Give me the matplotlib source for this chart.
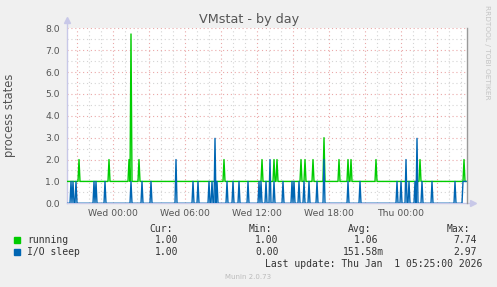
import matplotlib.pyplot as plt
from matplotlib.ticker import MultipleLocator, FixedLocator

# time in minutes relative to Wed 00:00, 5 minute samples
t_start, t_end = -230, 1765

# running: baseline 1, spikes at these times
run_spike_t = [-170, -20, 80, 90, 130, 555, 745, 805, 820, 940, 960, 1000,
               1055, 1130, 1175, 1190, 1315, 1535, 1755]
run_spike_v = [2, 2, 2, 7.74, 2, 2, 2, 2, 2, 2, 2, 2,
               3, 2, 2, 2, 2, 2, 2]

# I/O sleep: baseline 0 (1 at the very end), spikes at these times
io_spike_t = [-210, -200, -185, -95, -85, -40, 90, 145, 190, 315, 400, 425,
              480, 495, 510, 520, 570, 600, 630, 675, 730, 740, 765, 785,
              805, 850, 895, 905, 930, 955, 980, 1020, 1055, 1175, 1235,
              1420, 1440, 1465, 1480, 1510, 1520, 1545, 1595, 1710]
io_spike_v = [1, 1, 1, 1, 1, 1, 1, 1, 1, 2, 1, 1,
              1, 1, 2.97, 1, 1, 1, 1, 1, 1, 1, 1, 2,
              1, 1, 1, 1, 1, 1, 1, 1, 2, 1, 1,
              1, 1, 2, 1, 1, 2.97, 1, 1, 1]
io_tail_t = [1745, 1750, t_end]
io_tail_v = [0, 1, 1]

xtick_pos = [0, 360, 720, 1080, 1440]
xtick_labels = ['Wed 00:00', 'Wed 06:00', 'Wed 12:00', 'Wed 18:00', 'Thu 00:00']

legend_names = ['running', 'I/O sleep']
legend_colors = ['#00cc00', '#0066b3']
cur_vals = ['1.00', '1.00']
min_vals = ['1.00', '0.00']
avg_vals = ['1.06 ', '151.58m']
max_vals = ['7.74', '2.97']


def spikes(base, st, sv):
    xs, ys = [], []
    for t, v in zip(st, sv):
        xs += [t - 5, t, t + 5]
        ys += [base, v, base]
    return xs, ys


W, H = 497, 287
fig = plt.figure(figsize=(W / 100, H / 100), dpi=100, facecolor='#f0f0f0')
ax = fig.add_axes([67 / W, 1 - 203.3 / H, 400 / W, 175 / H])
ax.set_facecolor('white')

rx, ry = spikes(1, run_spike_t, run_spike_v)
rx = [t_start] + rx + [t_end]
ry = [1] + ry + [1]
ax.plot(rx, ry, color=legend_colors[0], lw=1.0, zorder=3)

ix, iy = spikes(0, io_spike_t, io_spike_v)
ix = [t_start] + ix + io_tail_t
iy = [0] + iy + io_tail_v
ax.plot(ix, iy, color=legend_colors[1], lw=1.0, zorder=4)

ax.set_xlim(-230, 1770)
ax.set_ylim(0, 8)

# grid
ax.xaxis.set_major_locator(FixedLocator(xtick_pos))
ax.set_xticklabels(xtick_labels)
ax.yaxis.set_major_locator(MultipleLocator(1))
ax.yaxis.set_major_formatter(plt.FormatStrFormatter('%.1f'))
for t in range(-180, 1770, 60):
    c = '#eaa8a8' if t % 180 == 0 else '#d4d4d4'
    ax.axvline(t, color=c, lw=0.8, ls=(0, (1, 2.5)), zorder=1)
for v in [i * 0.5 for i in range(1, 17)]:
    c = '#eaa8a8' if v % 1 == 0 else '#d4d4d4'
    ax.axhline(v, color=c, lw=0.8, ls=(0, (1, 2.5)), zorder=1)

ax.tick_params(length=0, labelsize=6.7, colors='#555555', pad=5)
ax.tick_params(axis='x', pad=4)
for s in ['top', 'left', 'bottom']:
    ax.spines[s].set_visible(False)
ax.spines['right'].set_color('#999999')
ax.spines['right'].set_linewidth(1)

# axis lines with arrows
axc = '#c8c8e8'
ax.plot([0, 0], [0, 1.03], transform=ax.transAxes, color=axc, lw=1, clip_on=False, zorder=2)
ax.plot([0], [1.045], transform=ax.transAxes, marker='^', ms=5, color=axc, clip_on=False)
ax.plot([0, 1.01], [0, 0], transform=ax.transAxes, color=axc, lw=1, clip_on=False, zorder=2)
ax.plot([1.015], [0], transform=ax.transAxes, marker='>', ms=5, color=axc, clip_on=False)

fig.text(249 / W, 1 - 19 / H, 'VMstat - by day', ha='center', va='center',
         fontsize=9.2, color='#555555')
fig.text(10 / W, 1 - 115 / H, 'process states', ha='center', va='center',
         rotation=90, fontsize=8.3, color='#555555')
fig.text(487 / W, 1 - 52 / H, 'RRDTOOL / TOBI OETIKER', ha='center', va='center',
         rotation=270, fontsize=5.3, color='#c4c4c4')

mono = dict(family='DejaVu Sans Mono', fontsize=7, color='#333333', va='center')
for x, s in [(173, 'Cur:'), (272, 'Min:'), (371, 'Avg:'), (470, 'Max:')]:
    fig.text(x / W, 1 - 228.5 / H, s, ha='right', **mono)
for i, y in enumerate([240, 252]):
    fig.patches.append(plt.Rectangle((14 / W, 1 - (y + 3) / H), 6 / W, 6 / H,
                                     transform=fig.transFigure, color=legend_colors[i]))
    fig.text(27 / W, 1 - y / H, legend_names[i], ha='left', **mono)
    fig.text(178.5 / W, 1 - y / H, cur_vals[i], ha='right', **mono)
    fig.text(278.5 / W, 1 - y / H, min_vals[i], ha='right', **mono)
    fig.text(383.5 / W, 1 - y / H, avg_vals[i], ha='right', **mono)
    fig.text(477 / W, 1 - y / H, max_vals[i], ha='right', **mono)
fig.text(482 / W, 1 - 264 / H, 'Last update: Thu Jan  1 05:25:00 2026', ha='right', **mono)
fig.text(248 / W, 1 - 277 / H, 'Munin 2.0.73', ha='center', va='center',
         fontsize=5, color='#bbbbbb')

fig.savefig('out.png', dpi=100, facecolor=fig.get_facecolor())
